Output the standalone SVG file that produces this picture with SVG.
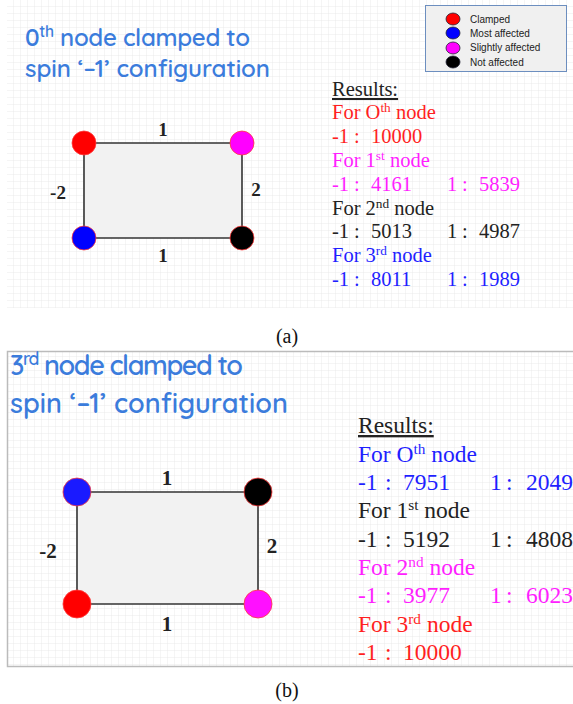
<svg xmlns="http://www.w3.org/2000/svg" width="573" height="704" viewBox="0 0 573 704">
<defs>
<pattern id="grid" width="7" height="7" patternUnits="userSpaceOnUse">
<path d="M7 0V7M0 7H7" fill="none" stroke="#e6e6e6" stroke-width="0.8"/>
</pattern>
<style>
.title{font-family:"Quicksand","Lato","Noto Sans",sans-serif;fill:#3b7cdc;font-weight:600}
.leg{font-family:"Liberation Sans",Arial,sans-serif;font-size:10px;fill:#222}
.res{font-family:"Liberation Serif","Times New Roman",serif}
.ra{font-size:20.5px}
.rb{font-size:23.5px}
.sup{font-size:65%}
.edge{stroke:#333;stroke-width:1.6;fill:none}
.face{fill:#f2f2f2;stroke:none}
.el{font-family:"Liberation Serif","Times New Roman",serif;font-weight:bold;fill:#222;text-anchor:middle}
.node{stroke:#ff3b3b;stroke-width:0.8}
.cap{font-family:"Liberation Serif","Times New Roman",serif;font-size:20px;fill:#111;text-anchor:middle}
.red{fill:#ff1f1f}.mag{fill:#ff1fff}.blk{fill:#222}.blu{fill:#1f1fff}
</style>
</defs>
<rect width="573" height="704" fill="#fff"/>
<!-- panel a background -->
<rect x="7" y="0" width="566" height="308" fill="url(#grid)"/>
<!-- panel b background -->
<rect x="7.5" y="351.5" width="570" height="315" fill="url(#grid)" stroke="#bbb" stroke-width="1.5"/>

<!-- Panel A title -->
<g id="titleA">
<text class="title" x="25" y="46" font-size="24" textLength="225" lengthAdjust="spacing">0<tspan class="sup" dy="-9">th</tspan><tspan dy="9"> node clamped to</tspan></text>
<text class="title" x="25" y="77" font-size="24" textLength="245" lengthAdjust="spacing">spin ‘–1’ configuration</text>
</g>

<!-- Legend -->
<g id="legend">
<rect x="425.5" y="5.5" width="141" height="66" fill="#f0f0f0" stroke="#6c8ebf" stroke-width="1"/>
<ellipse cx="453" cy="19" rx="7" ry="6" fill="#ff0000" stroke="#223" stroke-width="0.8"/>
<ellipse cx="453" cy="33" rx="7" ry="6" fill="#0000ff" stroke="#223" stroke-width="0.8"/>
<ellipse cx="453" cy="48" rx="7" ry="6" fill="#ff00ff" stroke="#223" stroke-width="0.8"/>
<ellipse cx="453" cy="62" rx="7" ry="6" fill="#000000" stroke="#223" stroke-width="0.8"/>
<text class="leg" x="470" y="23">Clamped</text>
<text class="leg" x="470" y="37">Most affected</text>
<text class="leg" x="470" y="51">Slightly affected</text>
<text class="leg" x="470" y="66">Not affected</text>
</g>

<!-- Panel A graph -->
<rect class="face" x="84" y="143" width="158" height="95"/>
<g id="connectorsA">
<line class="edge" x1="84" y1="143" x2="242" y2="143"/>
<line class="edge" x1="242" y1="143" x2="242" y2="238"/>
<line class="edge" x1="84" y1="238" x2="242" y2="238"/>
<line class="edge" x1="84" y1="143" x2="84" y2="238"/>
<text class="el" x="163" y="136" font-size="19">1</text>
<text class="el" x="256" y="196" font-size="19">2</text>
<text class="el" x="163" y="262" font-size="19">1</text>
<text class="el" x="58" y="199" font-size="19">-2</text>
</g>
<g id="a-node0"><circle class="node" cx="84" cy="143" r="12" fill="#ff0000"/></g>
<g id="a-node1"><circle class="node" cx="242" cy="143" r="12" fill="#ff00ff"/></g>
<g id="a-node2"><circle class="node" cx="242" cy="238" r="12" fill="#000000"/></g>
<g id="a-node3"><circle class="node" cx="84" cy="238" r="12" fill="#0000ff"/></g>

<!-- Panel A results -->
<g id="resultsA" class="res ra">
<text x="332" y="96" class="blk" text-decoration="underline">Results:</text>
<text x="332" y="119" class="red">For O<tspan class="sup" dy="-7">th</tspan><tspan dy="7"> node</tspan></text>
<text y="143" class="red"><tspan x="332">-1</tspan><tspan x="354">:</tspan><tspan x="371">10000</tspan></text>
<text x="332" y="167" class="mag">For 1<tspan class="sup" dy="-7">st</tspan><tspan dy="7"> node</tspan></text>
<text y="191" class="mag"><tspan x="332">-1</tspan><tspan x="354">:</tspan><tspan x="371">4161</tspan><tspan x="447">1</tspan><tspan x="462">:</tspan><tspan x="479">5839</tspan></text>
<text x="332" y="215" class="blk">For 2<tspan class="sup" dy="-7">nd</tspan><tspan dy="7"> node</tspan></text>
<text y="238" class="blk"><tspan x="332">-1</tspan><tspan x="354">:</tspan><tspan x="371">5013</tspan><tspan x="447">1</tspan><tspan x="462">:</tspan><tspan x="479">4987</tspan></text>
<text x="332" y="262" class="blu">For 3<tspan class="sup" dy="-7">rd</tspan><tspan dy="7"> node</tspan></text>
<text y="286" class="blu"><tspan x="332">-1</tspan><tspan x="354">:</tspan><tspan x="371">8011</tspan><tspan x="447">1</tspan><tspan x="462">:</tspan><tspan x="479">1989</tspan></text>
</g>

<text class="cap" x="287" y="343">(a)</text>

<!-- Panel B title -->
<g id="titleB">
<text class="title" x="10" y="375" font-size="27" textLength="233" lengthAdjust="spacing">3<tspan class="sup" dy="-10">rd</tspan><tspan dy="10"> node clamped to</tspan></text>
<text class="title" x="10" y="413" font-size="27" textLength="278" lengthAdjust="spacing">spin ‘–1’ configuration</text>
</g>

<!-- Panel B graph -->
<rect class="face" x="77" y="492" width="181" height="112"/>
<g id="connectorsB">
<line class="edge" x1="77" y1="492" x2="258" y2="492"/>
<line class="edge" x1="258" y1="492" x2="258" y2="604"/>
<line class="edge" x1="77" y1="604" x2="258" y2="604"/>
<line class="edge" x1="77" y1="492" x2="77" y2="604"/>
<text class="el" x="167" y="485" font-size="21">1</text>
<text class="el" x="272" y="553" font-size="21">2</text>
<text class="el" x="167" y="631" font-size="21">1</text>
<text class="el" x="48" y="558" font-size="21">-2</text>
</g>
<g id="b-node0"><circle class="node" cx="77" cy="492" r="14" fill="#1a1aff"/></g>
<g id="b-node1"><circle class="node" cx="258" cy="492" r="14" fill="#000000"/></g>
<g id="b-node2"><circle class="node" cx="258" cy="604" r="14" fill="#ff10ff"/></g>
<g id="b-node3"><circle class="node" cx="77" cy="604" r="14" fill="#ff0000"/></g>

<!-- Panel B results -->
<g id="resultsB" class="res rb">
<text x="358" y="433" class="blk" text-decoration="underline">Results:</text>
<text x="358" y="462" class="blu">For O<tspan class="sup" dy="-8">th</tspan><tspan dy="8"> node</tspan></text>
<text y="490" class="blu"><tspan x="358">-1</tspan><tspan x="385">:</tspan><tspan x="403">7951</tspan><tspan x="490">1</tspan><tspan x="506">:</tspan><tspan x="526">2049</tspan></text>
<text x="358" y="518" class="blk">For 1<tspan class="sup" dy="-8">st</tspan><tspan dy="8"> node</tspan></text>
<text y="547" class="blk"><tspan x="358">-1</tspan><tspan x="385">:</tspan><tspan x="403">5192</tspan><tspan x="490">1</tspan><tspan x="506">:</tspan><tspan x="526">4808</tspan></text>
<text x="358" y="575" class="mag">For 2<tspan class="sup" dy="-8">nd</tspan><tspan dy="8"> node</tspan></text>
<text y="603" class="mag"><tspan x="358">-1</tspan><tspan x="385">:</tspan><tspan x="403">3977</tspan><tspan x="490">1</tspan><tspan x="506">:</tspan><tspan x="526">6023</tspan></text>
<text x="358" y="632" class="red">For 3<tspan class="sup" dy="-8">rd</tspan><tspan dy="8"> node</tspan></text>
<text y="660" class="red"><tspan x="358">-1</tspan><tspan x="385">:</tspan><tspan x="403">10000</tspan></text>
</g>

<text class="cap" x="287" y="697">(b)</text>
</svg>
